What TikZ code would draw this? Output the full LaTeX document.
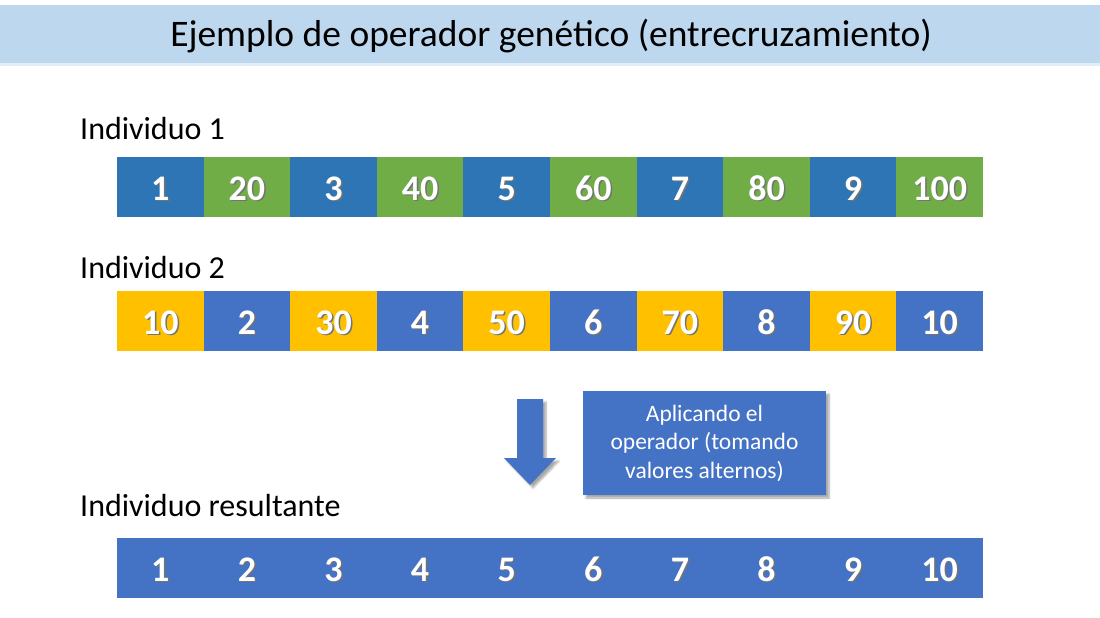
\documentclass[tikz,border=0pt]{standalone}
\usepackage{fontspec}
\setmainfont{Carlito}
\usetikzlibrary{shadows.blur}

\definecolor{bandblue}{HTML}{BDD7EE}
\definecolor{geneblue}{HTML}{2E75B6}
\definecolor{genegreen}{HTML}{70AD47}
\definecolor{geneyellow}{HTML}{FFC000}
\definecolor{opblue}{HTML}{4472C4}

\newcommand{\gnum}[1]{\makebox[0pt][l]{\hspace{1.5pt}\raisebox{-1.5pt}{\textcolor{black!55}{#1}}}#1}

\tikzset{
	gene/.style={shape=rectangle, minimum width=86.6pt, minimum height=60pt, inner sep=0pt, outer sep=0pt, text height=26pt, text depth=0pt, text=white, font=\fontsize{36}{40}\selectfont\bfseries},
	rowlabel/.style={anchor=base west, inner sep=0pt, font=\fontsize{32}{36}\selectfont},
	opshadow/.style={blur shadow={shadow xshift=3pt, shadow yshift=-3pt, shadow opacity=35, shadow blur steps=6}}
}

\begin{document}
\begin{tikzpicture}[x=1pt,y=-1pt]
	\useasboundingbox (0,0) rectangle (1100,618);

	% title band
	\fill[bandblue] (0,5) rectangle (1100,63);
	\fill[bandblue!45] (0,63) rectangle (1100,66);
	\node[anchor=base, inner sep=0pt, font=\fontsize{37.5}{42}\selectfont] (title) at (551,47) {Ejemplo de operador genético (entrecruzamiento)};

	% individuo 1
	\node[rowlabel] (lab1) at (80,139) {Individuo 1};
	\node[gene,fill=geneblue]  (a1)  at (160.3,187) {\gnum{1}};
	\node[gene,fill=genegreen] (a2)  at (246.9,187) {\gnum{20}};
	\node[gene,fill=geneblue]  (a3)  at (333.5,187) {\gnum{3}};
	\node[gene,fill=genegreen] (a4)  at (420.1,187) {\gnum{40}};
	\node[gene,fill=geneblue]  (a5)  at (506.7,187) {\gnum{5}};
	\node[gene,fill=genegreen] (a6)  at (593.3,187) {\gnum{60}};
	\node[gene,fill=geneblue]  (a7)  at (679.9,187) {\gnum{7}};
	\node[gene,fill=genegreen] (a8)  at (766.5,187) {\gnum{80}};
	\node[gene,fill=geneblue]  (a9)  at (853.1,187) {\gnum{9}};
	\node[gene,fill=genegreen] (a10) at (939.7,187) {\gnum{100}};

	% individuo 2
	\node[rowlabel] (lab2) at (80,278) {Individuo 2};
	\node[gene,fill=geneyellow] (b1)  at (160.3,321) {\gnum{10}};
	\node[gene,fill=opblue]     (b2)  at (246.9,321) {\gnum{2}};
	\node[gene,fill=geneyellow] (b3)  at (333.5,321) {\gnum{30}};
	\node[gene,fill=opblue]     (b4)  at (420.1,321) {\gnum{4}};
	\node[gene,fill=geneyellow] (b5)  at (506.7,321) {\gnum{50}};
	\node[gene,fill=opblue]     (b6)  at (593.3,321) {\gnum{6}};
	\node[gene,fill=geneyellow] (b7)  at (679.9,321) {\gnum{70}};
	\node[gene,fill=opblue]     (b8)  at (766.5,321) {\gnum{8}};
	\node[gene,fill=geneyellow] (b9)  at (853.1,321) {\gnum{90}};
	\node[gene,fill=opblue]     (b10) at (939.7,321) {\gnum{10}};

	% operador
	\path[fill=opblue, opshadow]
		(517,399) -- (543,399) -- (543,458) -- (556,458) -- (530,485) -- (504,458) -- (517,458) -- cycle;
	\node[fill=opblue, opshadow, minimum width=243pt, minimum height=104pt, inner sep=0pt, align=center, text=white, font=\fontsize{23.5}{28.5}\selectfont] (op) at (704.5,443) {Aplicando el\\operador (tomando\\valores alternos)};

	% individuo resultante
	\node[rowlabel] (lab3) at (80,516) {Individuo resultante};
	\node[gene,fill=opblue,minimum width=866pt] (res) at (550,568) {};
	\node[gene] (c1)  at (160.3,568) {\gnum{1}};
	\node[gene] (c2)  at (246.9,568) {\gnum{2}};
	\node[gene] (c3)  at (333.5,568) {\gnum{3}};
	\node[gene] (c4)  at (420.1,568) {\gnum{4}};
	\node[gene] (c5)  at (506.7,568) {\gnum{5}};
	\node[gene] (c6)  at (593.3,568) {\gnum{6}};
	\node[gene] (c7)  at (679.9,568) {\gnum{7}};
	\node[gene] (c8)  at (766.5,568) {\gnum{8}};
	\node[gene] (c9)  at (853.1,568) {\gnum{9}};
	\node[gene] (c10) at (939.7,568) {\gnum{10}};
\end{tikzpicture}
\end{document}
